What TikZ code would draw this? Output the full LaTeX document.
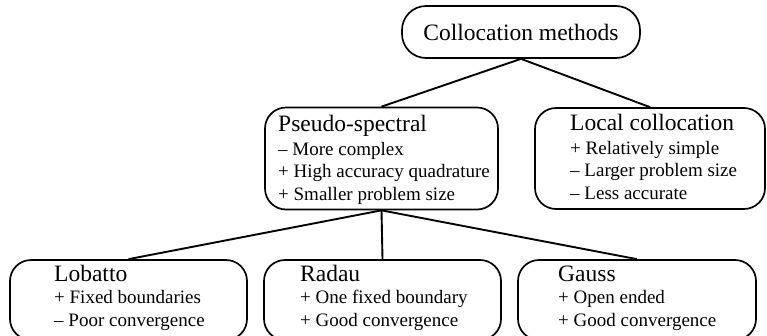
\documentclass[tikz,border=0pt]{standalone}
\usepackage{fontspec}
\setmainfont{Liberation Serif}
\begin{document}
\begin{tikzpicture}[x=1pt,y=-1pt,
  box/.style={draw, line width=1.7pt, rounded corners=21pt, inner sep=0pt},
  conn/.style={line width=1.9pt},
  headfont/.style={font=\fontsize{23.5}{26}\selectfont},
  body/.style={align=left, inner sep=0pt, anchor=base west, font=\fontsize{19}{22.5}\selectfont}]
\useasboundingbox (0,0) rectangle (767,335);
% boxes
\node[box, headfont, rounded corners=24pt, minimum width=238pt, minimum height=52pt] (top) at (521,32) {Collocation methods};
\node[box, minimum width=233pt, minimum height=102pt] (ps) at (381.5,158.5) {};
\node[box, minimum width=230pt, minimum height=101pt] (lc) at (650,158.5) {};
\node[box, minimum width=237pt, minimum height=80pt] (lob) at (128.5,300) {};
\node[box, minimum width=237pt, minimum height=80pt] (rad) at (382.5,300) {};
\node[box, minimum width=238pt, minimum height=80pt] (gau) at (637,300) {};
% texts (anchored at the baseline of their last line)
\node[body] (pst) at (278,200) {{\fontsize{23.5}{26}\selectfont Pseudo-spectral}\\[1pt]
  \textendash{} More complex\\ + High accuracy quadrature\\ + Smaller problem size};
\node[body] (lct) at (570,199) {{\fontsize{23.5}{26}\selectfont Local collocation}\\[1pt]
  + Relatively simple\\ \textendash{} Larger problem size\\ \textendash{} Less accurate};
\node[body] (lobt) at (54,326) {{\fontsize{23.5}{26}\selectfont Lobatto}\\
  + Fixed boundaries\\ \textendash{} Poor convergence};
\node[body] (radt) at (300,326) {{\fontsize{23.5}{26}\selectfont Radau}\\
  + One fixed boundary\\ + Good convergence};
\node[body] (gaut) at (558,326) {{\fontsize{23.5}{26}\selectfont Gauss}\\
  + Open ended\\ + Good convergence};
% connectors
\draw[conn] (top.south) -- (ps.north);
\draw[conn] (top.south) -- (lc.north);
\draw[conn] (ps.south) -- (lob.north);
\draw[conn] (ps.south) -- (rad.north);
\draw[conn] (ps.south) -- (gau.north);
\end{tikzpicture}
\end{document}
